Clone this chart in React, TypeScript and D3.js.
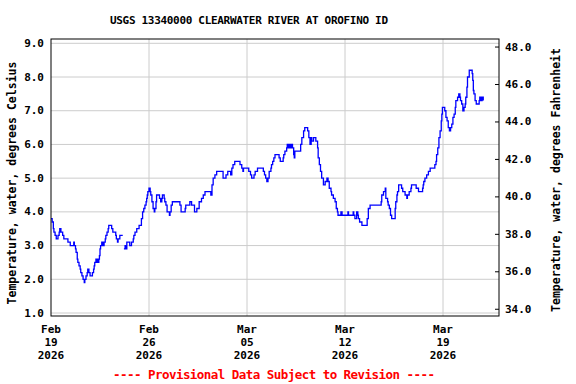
import React from 'react';
import * as d3 from 'd3';

// water temperature, USGS 13340000
// hours since 2026-02-19 00:00, with a null reading at the short data gap
const hoursSinceStart = [
  0, 2, 4, 5, 7, 9, 12, 14, 15, 17, 20, 22, 29, 33, 39, 40, 42, 43, 45, 46,
  48, 50, 51, 53, 55, 57, 58, 60, 62, 63, 65, 67, 71, 73, 74, 75, 77, 78, 80, 81,
  82, 83, 84, 85, 87, 89, 91, 93, 94, 96, 98, 99, 104, 106, 111, 112, 114, 115, 118, 123,
  124,
  125, 127, 129, 130, 135, 138, 141, 142, 144, 147, 151, 155, 157, 159, 161, 163, 164, 165, 166, 168,
  170, 171, 173, 175, 177, 178, 180, 181, 186, 188, 190, 191, 194, 195, 197, 199, 203, 204, 206, 208,
  221, 223, 230, 231, 238, 241, 246, 250, 254, 258, 261, 264, 274, 276, 278, 281, 284, 295, 300, 303,
  308, 310, 312, 315, 324, 327, 329, 330, 339, 342, 344, 348, 350, 354, 364, 366, 368, 370, 372, 374,
  377, 378, 380, 382, 384, 391, 393, 398, 399, 401, 404, 405, 407, 409, 411, 412, 414, 416, 417, 418,
  428, 430, 433, 435, 440, 442, 444, 446, 447, 450, 454, 457, 458, 460, 462, 464, 467, 470, 473, 475,
  477, 480, 481, 484, 487, 489, 491, 492, 497, 499, 509, 510, 518, 519, 521, 524, 526, 527, 529, 533,
  542, 544, 547, 566, 567, 570, 573, 574, 577, 578, 580, 582, 584, 590, 591, 593, 594, 596, 601, 603,
  607, 610, 611, 614, 617, 618, 626, 630, 637, 638, 639, 641, 644, 647, 650, 658, 660, 661, 663, 665,
  667, 669, 670, 671, 675, 677, 679, 681, 683, 685, 687, 689, 691, 693, 694, 697, 699, 701, 702, 704,
  706, 708, 710, 711, 713, 714, 717, 722, 723, 724, 725, 727, 729, 734, 735, 737, 739, 741,
];

const waterTempC: (number | null)[] = [
  3.8, 3.7, 3.5, 3.4, 3.3, 3.2, 3.3, 3.4, 3.5, 3.4, 3.3, 3.2, 3.1, 3.0, 3.1, 3.0, 2.9, 2.8, 2.6, 2.5,
  2.4, 2.3, 2.2, 2.1, 2.0, 1.9, 2.0, 2.1, 2.2, 2.3, 2.2, 2.1, 2.2, 2.3, 2.4, 2.5, 2.6, 2.5, 2.6, 2.5,
  2.6, 2.7, 2.9, 3.0, 3.1, 3.0, 3.1, 3.2, 3.3, 3.4, 3.5, 3.6, 3.5, 3.4, 3.3, 3.2, 3.1, 3.2, 3.3, 3.3,
  null,
  2.9, 3.0, 2.9, 3.1, 3.0, 3.1, 3.2, 3.3, 3.4, 3.5, 3.6, 3.8, 4.0, 4.1, 4.2, 4.3, 4.4, 4.5, 4.6, 4.7,
  4.6, 4.5, 4.3, 4.1, 4.0, 4.1, 4.3, 4.5, 4.4, 4.3, 4.4, 4.5, 4.4, 4.3, 4.2, 4.0, 3.9, 4.0, 4.2, 4.3,
  4.2, 4.0, 4.1, 4.2, 4.3, 4.2, 4.0, 4.1, 4.3, 4.4, 4.5, 4.6, 4.5, 4.8, 5.0, 5.1, 5.2, 5.0, 5.1, 5.2,
  5.1, 5.3, 5.4, 5.5, 5.4, 5.3, 5.2, 5.3, 5.2, 5.1, 5.0, 5.1, 5.2, 5.3, 5.2, 5.1, 5.0, 4.9, 5.0, 5.2,
  5.3, 5.4, 5.5, 5.6, 5.7, 5.6, 5.5, 5.6, 5.7, 5.8, 5.9, 6.0, 5.9, 6.0, 5.9, 6.0, 5.9, 5.7, 5.6, 5.8,
  6.0, 6.2, 6.4, 6.5, 6.4, 6.2, 6.0, 6.2, 6.1, 6.2, 6.1, 5.9, 5.6, 5.4, 5.2, 5.0, 4.8, 4.9, 5.0, 4.9,
  4.7, 4.6, 4.5, 4.4, 4.3, 4.1, 4.0, 3.9, 4.0, 3.9, 4.0, 3.9, 4.0, 3.9, 3.8, 4.0, 3.9, 3.8, 3.7, 3.6,
  3.8, 4.1, 4.2, 4.3, 4.5, 4.6, 4.7, 4.4, 4.3, 4.2, 4.1, 3.9, 3.8, 4.1, 4.3, 4.5, 4.6, 4.8, 4.7, 4.6,
  4.5, 4.4, 4.5, 4.6, 4.7, 4.8, 4.7, 4.6, 4.7, 4.8, 4.9, 5.0, 5.1, 5.2, 5.3, 5.4, 5.5, 5.7, 5.9, 6.2,
  6.4, 6.7, 6.9, 7.1, 7.0, 6.8, 6.7, 6.5, 6.4, 6.5, 6.6, 6.8, 6.9, 7.1, 7.3, 7.4, 7.5, 7.4, 7.3, 7.2,
  7.0, 7.1, 7.2, 7.4, 7.7, 8.0, 8.2, 8.1, 7.9, 7.6, 7.5, 7.3, 7.2, 7.3, 7.4, 7.3, 7.4, 7.3,
];

const weekTicks = ['2026-02-19', '2026-02-26', '2026-03-05', '2026-03-12', '2026-03-19'];
const celsiusTicks = [1, 2, 3, 4, 5, 6, 7, 8, 9];
const fahrenheitTicks = [34, 36, 38, 40, 42, 44, 46, 48];

const font = '"DejaVu Sans Mono", monospace';
const box = { left: 51, right: 499, top: 39, bottom: 316 };

const App = () => {
  const start = Date.UTC(2026, 1, 19);
  const parse = d3.utcParse('%Y-%m-%d');

  const x = d3.scaleUtc()
    .domain([new Date(start), new Date(start + 32 * 864e5)])
    .range([box.left, box.right]);
  const y = d3.scaleLinear().domain([1, 9]).range([313, 43.3]);
  const yF = d3.scaleLinear().domain([1 * 1.8 + 32, 9 * 1.8 + 32]).range([313, 43.3]);

  const points = hoursSinceStart.map((h, i) => ({
    t: new Date(start + h * 36e5),
    v: waterTempC[i],
  }));

  const line = d3.line<{ t: Date; v: number | null }>()
    .defined(d => d.v != null)
    .x(d => x(d.t))
    .y(d => y(d.v as number))
    .curve(d3.curveStepAfter);

  const ticks = weekTicks.map(s => parse(s) as Date);

  return (
    <svg width={576} height={384} style={{ position: 'absolute', left: 0, top: 0, background: '#fff' }}
      fontFamily={font} fontWeight="bold">
      <text x={249} y={24} fontSize={11} textAnchor="middle" textLength={278}>
        USGS 13340000 CLEARWATER RIVER AT OROFINO ID
      </text>

      {celsiusTicks.map(c => (
        <line key={'gy' + c} x1={box.left} x2={box.right} y1={y(c)} y2={y(c)} stroke="#cccccc" />
      ))}
      {ticks.slice(1).map((d, i) => (
        <line key={'gx' + i} x1={x(d)} x2={x(d)} y1={box.top} y2={box.bottom} stroke="#cccccc" />
      ))}

      <path d={line(points) || ''} fill="none" stroke="#0000ff" strokeWidth={1.3} />

      <rect x={box.left} y={box.top} width={box.right - box.left} height={box.bottom - box.top}
        fill="none" stroke="#000" strokeWidth={1} />

      {celsiusTicks.map(c => (
        <text key={'ly' + c} x={44} y={y(c) + 3.5} fontSize={11} textAnchor="end">{c.toFixed(1)}</text>
      ))}
      {fahrenheitTicks.map(f => (
        <g key={'ry' + f}>
          <line x1={box.right - 4} x2={box.right} y1={yF(f)} y2={yF(f)} stroke="#000" />
          <text x={505} y={yF(f) + 3.5} fontSize={11}>{f.toFixed(1)}</text>
        </g>
      ))}

      {ticks.map((d, i) => (
        <text key={'lx' + i} x={x(d)} fontSize={11} textAnchor="middle">
          <tspan x={x(d)} y={333}>{d3.utcFormat('%b')(d)}</tspan>
          <tspan x={x(d)} y={346}>{d3.utcFormat('%d')(d)}</tspan>
          <tspan x={x(d)} y={359}>{d3.utcFormat('%Y')(d)}</tspan>
        </text>
      ))}

      <text transform="translate(16,183) rotate(-90)" fontSize={11.5} textAnchor="middle" textLength={243}>
        Temperature, water, degrees Celsius
      </text>
      <text transform="translate(560,180) rotate(-90)" fontSize={11.5} textAnchor="middle" textLength={264}>
        Temperature, water, degrees Fahrenheit
      </text>

      <text x={274} y={379} fontSize={12.5} textAnchor="middle" fill="#ff0000" textLength={322}>
        ---- Provisional Data Subject to Revision ----
      </text>
    </svg>
  );
};

export default App;
